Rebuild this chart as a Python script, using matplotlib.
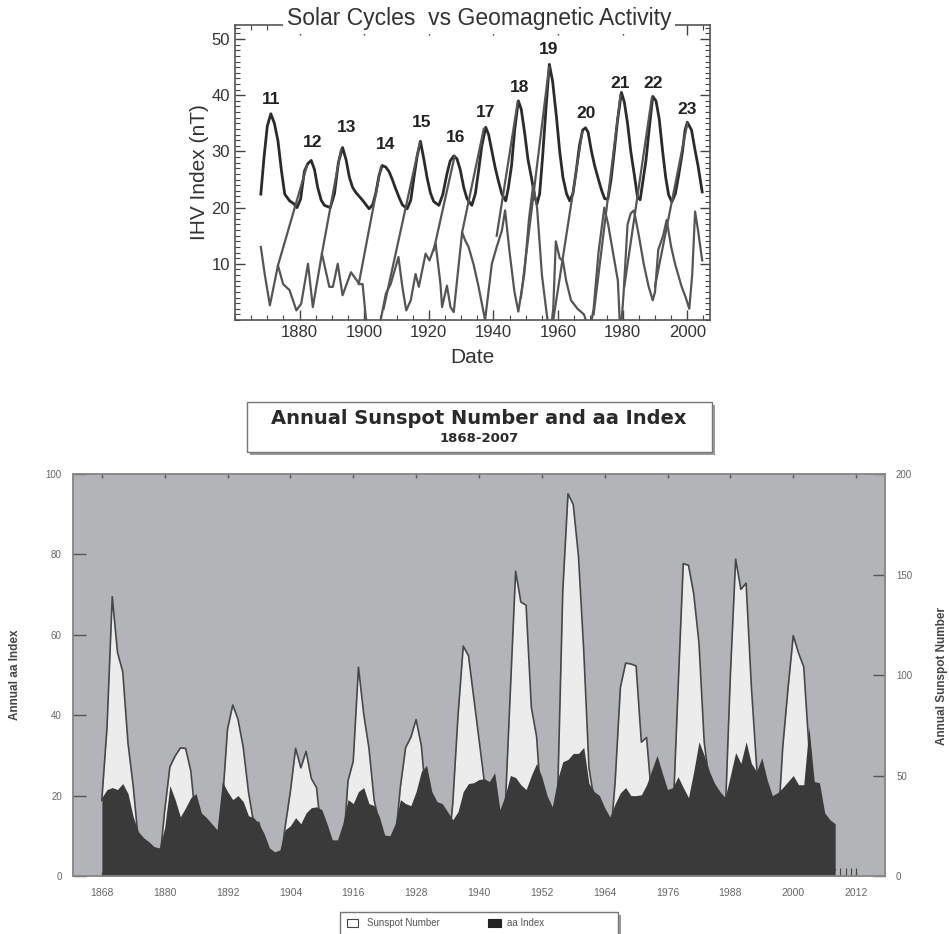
import matplotlib
matplotlib.use("Agg")
import matplotlib.pyplot as plt
from matplotlib.patches import Rectangle
from matplotlib.ticker import MultipleLocator
import numpy as np

plt.rcParams['font.family'] = ['Liberation Sans', 'DejaVu Sans']

# ---- top panel: IHV index curve ----
ihv_years = [1868.0, 1869.0, 1870.0, 1871.1, 1872.2, 1873.3, 1874.4, 1875.4, 1876.9, 1878.0,
             1879.2, 1880.3, 1881.5, 1882.5, 1883.6, 1884.6, 1885.6, 1886.7, 1887.7, 1889.5,
             1890.8, 1892.0, 1893.3, 1894.4, 1895.4, 1896.4, 1897.4, 1899.5, 1901.5, 1902.6,
             1903.6, 1904.6, 1905.6, 1906.7, 1907.7, 1908.7, 1909.7, 1910.8, 1911.8, 1913.3,
             1914.4, 1915.4, 1916.4, 1917.4, 1918.4, 1919.5, 1920.5, 1921.5, 1923.1, 1924.3,
             1925.6, 1926.6, 1927.7, 1928.7, 1929.7, 1930.8, 1931.8, 1933.3, 1934.4, 1935.4,
             1936.4, 1937.6, 1938.5, 1939.5, 1940.5, 1941.5, 1942.6, 1943.8, 1944.6, 1945.6,
             1946.6, 1947.7, 1948.6, 1949.7, 1950.7, 1951.8, 1952.8, 1953.5, 1954.3, 1955.2,
             1956.3, 1957.3, 1958.3, 1959.5, 1960.5, 1961.5, 1962.6, 1963.6, 1964.6, 1965.6,
             1966.6, 1967.6, 1968.5, 1969.3, 1970.3, 1971.3, 1972.3, 1973.4, 1974.4, 1975.4,
             1976.4, 1977.4, 1978.4, 1979.6, 1980.5, 1981.5, 1982.5, 1983.6, 1984.6, 1985.4,
             1986.2, 1987.2, 1988.2, 1989.3, 1990.3, 1991.3, 1992.3, 1993.3, 1994.2, 1995.2,
             1996.3, 1997.3, 1998.5, 1999.3, 2000.0, 2001.3, 2002.3, 2003.3, 2004.6]
ihv_vals = [22.4, 29.0, 34.5, 36.7, 35.0, 31.9, 26.5, 22.4, 21.2, 20.8,
            20.0, 21.5, 26.5, 27.8, 28.4, 26.8, 23.6, 21.3, 20.4, 20.0,
            22.5, 28.0, 30.7, 28.5, 25.4, 23.6, 22.7, 21.3, 19.8, 20.5,
            22.6, 25.8, 27.5, 27.2, 26.4, 25.0, 23.4, 21.8, 20.5, 19.8,
            21.3, 25.4, 29.2, 31.8, 28.8, 25.2, 22.6, 21.1, 20.4, 22.3,
            26.0, 28.3, 29.2, 28.7, 26.8, 23.6, 21.6, 20.4, 22.5, 26.6,
            31.0, 34.3, 33.0, 30.1, 27.2, 24.8, 22.4, 21.2, 23.5, 27.5,
            34.0, 39.0, 37.5, 33.1, 28.5, 25.2, 21.8, 20.7, 22.5, 29.0,
            38.0, 45.5, 42.5, 36.1, 30.0, 25.4, 22.5, 21.2, 22.5, 26.5,
            31.0, 33.8, 34.2, 33.4, 30.1, 27.5, 25.4, 23.2, 21.6, 21.5,
            25.0, 30.1, 35.5, 40.5, 38.8, 35.0, 30.0, 25.8, 21.8, 21.4,
            24.5, 28.4, 34.0, 39.8, 39.0, 35.8, 30.3, 25.4, 22.3, 21.0,
            22.5, 25.7, 30.0, 33.8, 35.2, 33.8, 30.5, 27.5, 22.8]

# lower curve (values below zero fall off the axis)
low_years = [1868.0, 1869.2, 1870.8, 1873.3, 1874.9, 1876.9, 1879.0, 1880.5, 1882.6, 1884.1,
             1886.9, 1889.2, 1890.3, 1891.8, 1893.3, 1895.9, 1898.5, 1899.5, 1900.4, 1902.5,
             1905.1, 1906.7, 1908.2, 1910.6, 1911.8, 1913.0, 1914.4, 1915.9, 1916.9, 1919.0,
             1920.2, 1922.1, 1923.6, 1924.1, 1925.6, 1926.7, 1927.7, 1930.3, 1931.3, 1932.3,
             1933.8, 1935.4, 1937.4, 1939.5, 1941.0, 1942.6, 1943.6, 1945.0, 1946.5, 1947.7,
             1949.5, 1951.0, 1952.3, 1953.5, 1955.0, 1956.5, 1957.5, 1958.5, 1959.3, 1960.5,
             1961.5, 1962.5, 1964.0, 1966.0, 1968.0, 1969.8, 1971.0, 1972.5, 1974.3, 1975.5,
             1977.0, 1978.5, 1979.3, 1980.3, 1981.5, 1982.5, 1983.5, 1985.0, 1986.5, 1988.0,
             1989.3, 1990.0, 1991.0, 1992.5, 1993.6, 1995.0, 1996.2, 1998.2, 1999.5, 2000.6,
             2001.5, 2002.4, 2003.3, 2004.6]
low_vals = [13.0, 8.2, 2.6, 9.7, 6.4, 5.3, 1.7, 2.9, 10.0, 2.3,
            11.8, 5.9, 5.9, 10.0, 4.4, 8.5, 6.4, 6.4, 1.0, -8.0,
            0.0, 4.7, 6.4, 11.2, 5.9, 1.7, 3.5, 8.2, 5.9, 11.8,
            10.6, 13.6, 6.4, 2.3, 6.1, 2.3, 1.4, 15.6, 14.1, 13.0,
            10.0, 5.9, 0.0, 10.0, 13.0, 15.9, 19.5, 12.0, 5.0, 1.5,
            8.0, 18.0, 24.0, 20.0, 8.0, 1.0, -3.0, 2.0, 14.0, 11.0,
            10.5, 7.0, 3.5, 2.0, 1.0, -2.0, 2.0, 12.0, 20.0, 17.0,
            12.0, 7.0, -3.0, 5.0, 17.0, 19.0, 19.5, 15.0, 10.0, 6.0,
            3.5, 5.0, 12.5, 15.0, 17.8, 13.0, 10.0, 6.0, 4.0, 2.0,
            8.0, 19.3, 16.0, 10.6]

# straight rising links from the lower curve to each IHV peak
link_x0 = [1873.3, 1886.9, 1898.3, 1906.0, 1921.5, 1930.3, 1941.0, 1948.5, 1958.5, 1971.0, 1980.5, 1990.0]
link_y0 = [9.7, 11.8, 6.4, 2.0, 12.4, 15.6, 15.0, 4.0, 0.0, 1.0, 6.0, 6.0]
link_x1 = [1882.3, 1892.8, 1905.2, 1917.2, 1928.0, 1937.0, 1947.5, 1957.2, 1967.5, 1979.3, 1989.0, 2000.0]
link_y1 = [27.5, 30.3, 27.3, 31.5, 29.2, 34.0, 38.8, 45.0, 33.5, 40.0, 39.5, 35.0]

cycle_labels = ['11', '12', '13', '14', '15', '16', '17', '18', '19', '20', '21', '22', '23']
cycle_x = [1871.1, 1884.1, 1894.4, 1906.5, 1917.7, 1928.2, 1937.6, 1948.0, 1956.9, 1968.7, 1979.3, 1989.5, 2000.0]
cycle_y = [39.3, 31.6, 34.3, 31.2, 35.2, 32.5, 37.0, 41.4, 48.1, 36.7, 42.1, 42.1, 37.4]

# ---- bottom panel: annual sunspot number and aa index ----
years = list(range(1868, 2009))
sunspot = [37.6, 74.0, 139.0, 111.2, 101.6, 66.2, 44.7, 17.0, 11.3, 12.4, 3.4, 6.0,
           32.3, 54.3, 59.7, 63.7, 63.5, 52.2, 25.4, 13.1, 6.8, 6.3,
           7.1, 35.6, 73.0, 85.1, 78.0, 64.0, 41.8, 26.2, 26.7, 12.1,
           9.5, 2.7, 5.0, 24.4, 42.0, 63.5, 53.8, 62.0, 48.5, 43.9,
           18.6, 5.7, 3.6, 1.4, 9.6, 47.4, 57.1, 103.9, 80.6, 63.6,
           37.6, 26.1, 14.2, 5.8, 16.7, 44.3, 63.9, 69.0, 77.8, 64.9,
           35.7, 21.2, 11.1, 5.7, 8.7, 36.1, 79.7, 114.4, 109.6, 88.8,
           67.8, 47.5, 30.6, 16.3, 9.6, 33.2, 92.6, 151.6, 136.3, 134.7,
           83.9, 69.4, 31.5, 13.9, 4.4, 38.0, 141.7, 190.2, 184.8, 159.0,
           112.3, 53.9, 37.5, 27.9, 10.2, 15.1, 47.0, 93.8, 105.9, 105.5,
           104.5, 66.6, 68.9, 38.0, 34.5, 15.5, 12.6, 27.5, 92.5, 155.4,
           154.6, 140.4, 115.9, 66.6, 45.9, 17.9, 13.4, 29.4, 100.2, 157.6,
           142.6, 145.7, 94.3, 54.6, 29.9, 17.5, 8.6, 21.5, 64.3, 93.3,
           119.6, 111.0, 104.0, 63.7, 40.4, 29.8, 15.2, 7.5, 2.9]
aa_index = [19.5, 21.5, 22.0, 21.5, 23.0, 20.5, 14.7, 11.0, 9.5, 8.5, 7.3, 7.0,
            12.0, 22.5, 19.0, 14.7, 17.0, 19.5, 20.5, 15.7, 14.5, 13.0,
            11.5, 23.5, 21.0, 19.0, 20.0, 18.5, 15.0, 14.5, 13.0, 10.5,
            7.0, 6.0, 6.5, 11.5, 12.5, 14.5, 13.0, 15.7, 17.0, 17.2,
            16.5, 13.0, 9.0, 9.0, 13.0, 19.0, 18.0, 21.0, 22.0, 18.0,
            17.5, 14.7, 10.2, 10.0, 13.0, 19.0, 18.0, 17.5, 21.0, 26.0,
            27.5, 21.0, 18.5, 18.0, 16.0, 14.0, 16.0, 21.0, 23.0, 23.2,
            24.0, 24.2, 23.5, 25.7, 16.5, 20.0, 25.0, 24.5, 22.7, 21.5,
            25.0, 28.0, 24.7, 20.0, 17.2, 24.0, 28.4, 29.0, 30.5, 30.5,
            32.0, 23.0, 21.0, 20.0, 17.0, 14.7, 18.0, 20.7, 22.0, 20.0,
            20.0, 20.2, 22.7, 26.4, 30.0, 25.6, 21.5, 22.0, 24.7, 22.0,
            19.5, 26.0, 33.4, 30.0, 26.0, 23.0, 21.0, 19.5, 25.0, 30.7,
            28.0, 33.4, 28.0, 26.0, 29.4, 24.0, 20.0, 20.7, 22.0, 23.5,
            25.0, 22.7, 22.7, 37.0, 23.5, 23.2, 15.7, 14.0, 13.0]
stub_years = [2009, 2010, 2011, 2012]
stub_vals = [2.0, 2.0, 2.0, 2.0]

fig = plt.figure(figsize=(9.49, 9.34), dpi=100)

# ================= top panel =================
ax = fig.add_axes([0.2476, 0.6574, 0.5005, 0.3158])
ax.plot(ihv_years, ihv_vals, color='#2b2b2b', lw=2.0)
ax.plot(low_years, low_vals, color='#555555', lw=1.6)
for i in range(len(link_x0)):
    ax.plot([link_x0[i], link_x1[i]], [link_y0[i], link_y1[i]], color='#555555', lw=1.6)
for lab, cx, cy in zip(cycle_labels, cycle_x, cycle_y):
    ax.text(cx, cy, lab, ha='center', va='center', fontsize=12.5, fontweight='bold', color='#222222')

ax.set_xlim(1860, 2007)
ax.set_ylim(0, 52.5)
ax.set_xticks([1880, 1900, 1920, 1940, 1960, 1980, 2000])
ax.set_yticks([10, 20, 30, 40, 50])
ax.xaxis.set_minor_locator(MultipleLocator(5))
ax.yaxis.set_minor_locator(MultipleLocator(1))
ax.tick_params(which='both', direction='in', top=True, right=True, colors='#444444',
               labelsize=12, labelcolor='#333333')
ax.tick_params(which='major', length=7, width=1.0)
ax.tick_params(which='minor', length=3.5, width=0.8)
for s in ax.spines.values():
    s.set_color('#555555')
    s.set_linewidth(1.2)
ax.set_xlabel('Date', fontsize=15, color='#333333', labelpad=6)
ax.set_ylabel('IHV Index (nT)', fontsize=15, color='#333333', labelpad=2)
ax.text(0.514, 1.022, 'Solar Cycles  vs Geomagnetic Activity', transform=ax.transAxes,
        ha='center', va='center', fontsize=16.5, color='#333333', zorder=5,
        bbox=dict(facecolor='white', edgecolor='none', pad=3))

# ================= bottom panel =================
axs = fig.add_axes([0.0769, 0.0621, 0.8556, 0.4304])
axs.set_facecolor('#b2b4b7')
axs.fill_between(years, sunspot, 0, color='#ececec', lw=0)
axs.plot(years, sunspot, color='#474747', lw=1.2)
axs.set_ylim(0, 200)
axs.set_xlim(1862.5, 2017.5)

axa = axs.twinx()
axa.fill_between(years, aa_index, 0, color='#3a3a3a', lw=0)
axa.vlines(stub_years, 0, stub_vals, color='#444444', lw=0.8)
axa.set_ylim(0, 100)

axs.yaxis.tick_right()
axa.yaxis.tick_left()
axs.set_yticks([0, 50, 100, 150, 200])
axa.set_yticks([0, 20, 40, 60, 80, 100])
axs.set_xticks(range(1868, 2013, 12))
for a in (axs, axa):
    a.tick_params(axis='y', direction='in', length=9, width=1.0, colors='#555555',
                  labelsize=7, labelcolor='#666666', pad=8)
axs.tick_params(axis='x', direction='in', length=3, width=1.0, top=True, colors='#555555',
                labelsize=7.5, labelcolor='#666666', pad=9)
for a in (axs, axa):
    for s in a.spines.values():
        s.set_color('#8a8a8a')
        s.set_linewidth(1.2)

fig.text(15 / 949, 1 - 675 / 934, 'Annual aa Index', rotation=90, ha='center', va='center',
         fontsize=8.5, fontweight='bold', color='#444444')
fig.text(942 / 949, 1 - 676 / 934, 'Annual Sunspot Number', rotation=90, ha='center', va='center',
         fontsize=8.5, fontweight='bold', color='#444444')

# title box with shadow
fig.patches.append(Rectangle((250 / 949, 1 - 455 / 934), 465 / 949, 50 / 934, transform=fig.transFigure,
                             facecolor='#9a9a9a', edgecolor='none', zorder=1))
fig.patches.append(Rectangle((247 / 949, 1 - 452 / 934), 465 / 949, 50 / 934, transform=fig.transFigure,
                             facecolor='white', edgecolor='#777777', lw=1.0, zorder=2))
fig.text(479 / 949, 1 - 418 / 934, 'Annual Sunspot Number and aa Index', ha='center', va='center',
         fontsize=14, fontweight='bold', color='#2a2a2a', family='DejaVu Sans', zorder=3)
fig.text(479 / 949, 1 - 438 / 934, '1868-2007', ha='center', va='center',
         fontsize=9.5, fontweight='bold', color='#2a2a2a', family='DejaVu Sans', zorder=3)

# legend box (runs off the bottom edge)
leg_h = (934 - 912) / 934 + 0.02
fig.patches.append(Rectangle((343 / 949, -0.02 - 3 / 934), 278 / 949, leg_h, transform=fig.transFigure,
                             facecolor='#9a9a9a', edgecolor='none', zorder=1))
fig.patches.append(Rectangle((340 / 949, -0.02), 278 / 949, leg_h, transform=fig.transFigure,
                             facecolor='white', edgecolor='#777777', lw=1.0, zorder=2))
fig.patches.append(Rectangle((347 / 949, 1 - 927 / 934), 11 / 949, 8 / 934, transform=fig.transFigure,
                             facecolor='white', edgecolor='#444444', lw=0.8, zorder=3))
fig.text(367 / 949, 1 - 923 / 934, 'Sunspot Number', ha='left', va='center', fontsize=7,
         color='#555555', zorder=3)
fig.patches.append(Rectangle((488 / 949, 1 - 927 / 934), 13 / 949, 8 / 934, transform=fig.transFigure,
                             facecolor='#222222', edgecolor='#222222', lw=0.8, zorder=3))
fig.text(507 / 949, 1 - 923 / 934, 'aa Index', ha='left', va='center', fontsize=7,
         color='#555555', zorder=3)

fig.savefig('out.png', dpi=100)
